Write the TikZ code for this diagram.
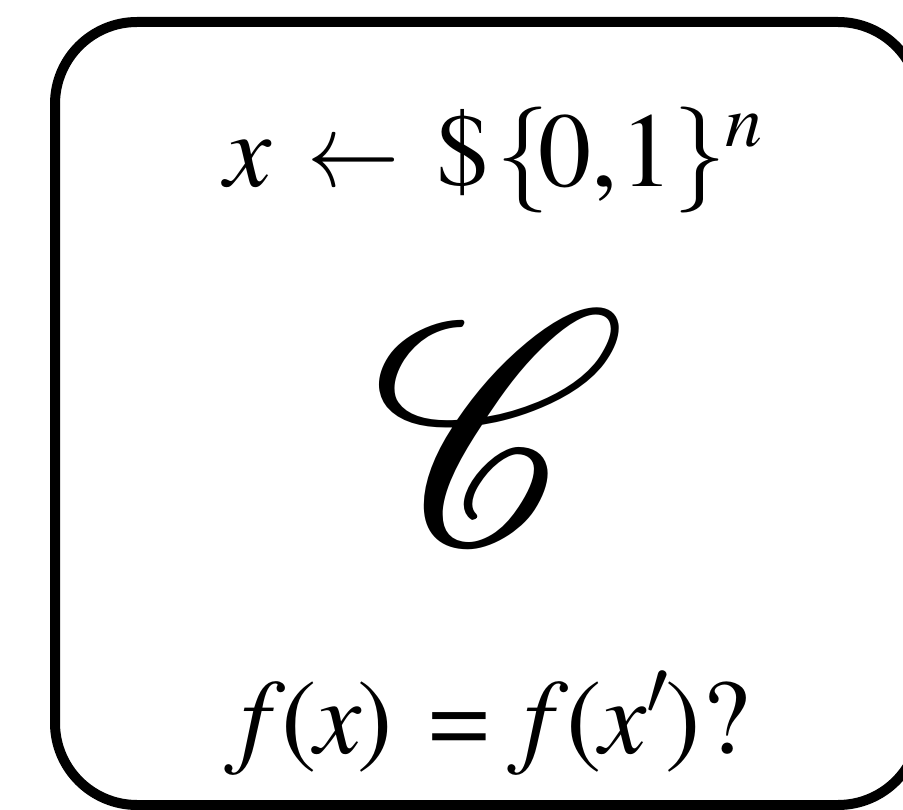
\documentclass[tikz,border=0pt]{standalone}
\usepackage[OT1]{fontenc}
\usepackage{mathptmx}
\usepackage{mathrsfs}
\usepackage{graphicx}
\newcommand{\supn}[1]{\raisebox{40pt}{\fontsize{74}{80}\selectfont$#1$}}
\newcommand{\larr}{\scalebox{0.87}[1]{$\leftarrow$}}
\begin{document}
\begin{tikzpicture}[x=1pt,y=-1pt,
  frame/.style={draw=black,line width=10pt,rounded corners=82pt},
  txt/.style={inner sep=0pt,anchor=base,font=\fontsize{106}{120}\selectfont}]
\useasboundingbox (0,0) rectangle (903,810);
\draw[frame] (55,22) rectangle (920,805);
\node[txt] (top) at (493.5,187) {$x$\hspace{36pt}\larr\hspace{36pt}\$\hspace{7pt}$\{$\kern-11pt0,\kern3pt1$\}$\hspace{-1pt}\supn{n}};
\node[inner sep=0pt] (C) at (499,428) {\scalebox{0.924}[1]{\resizebox{!}{230.6pt}{$\mathscr{C}$}}};
\node[txt] (bot) at (487,753) {$f$\kern-4pt(\kern-2pt$x$\kern-5pt)\hspace{37pt}=\hspace{18pt}$f$\kern-2pt(\kern-2pt$x'$\kern-3pt)\hspace{1pt}?};
\end{tikzpicture}
\end{document}
